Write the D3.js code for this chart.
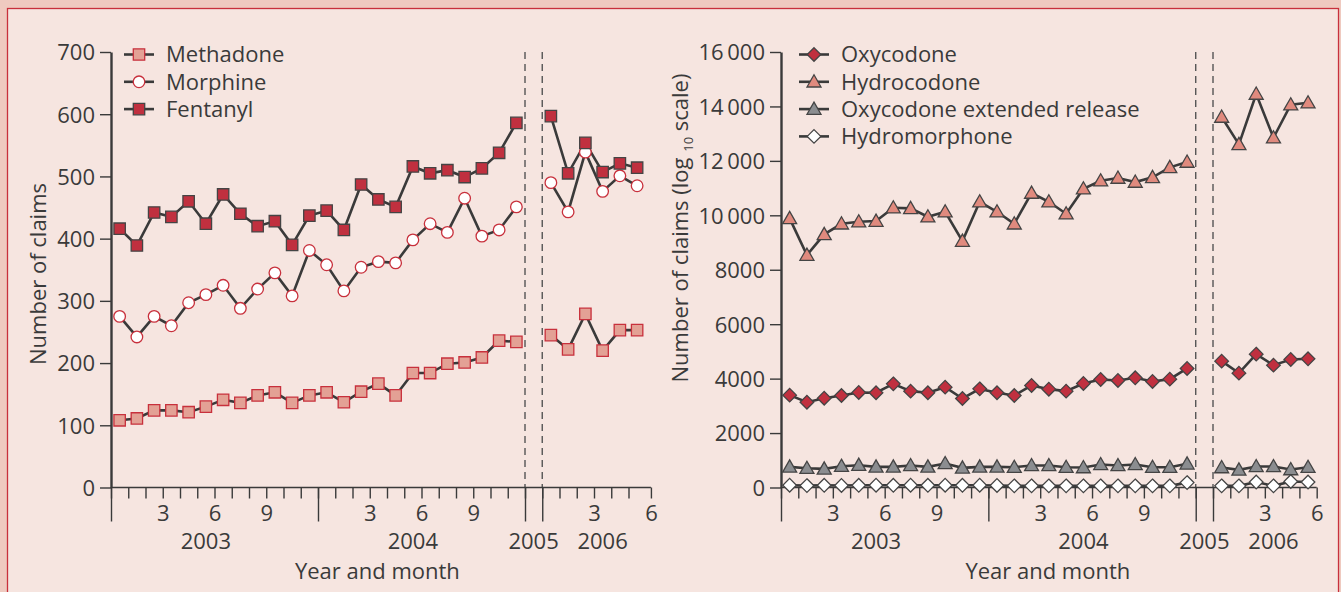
<!DOCTYPE html>
<html>
<head>
<meta charset="utf-8">
<script src="https://cdn.jsdelivr.net/npm/d3@7"></script>
<style>
  body { margin: 0; background: #efcac0; }
  svg { display: block; font-family: "Open Sans", sans-serif; }
  .tick text { font-size: 22px; fill: #3a3a3a; font-family: "Open Sans", sans-serif; }
</style>
</head>
<body>
<div id="chart"></div>
<script>
// Monthly claims, Jan 2003 - Dec 2004 (24 values) and Jan - Jun 2006 (6 values)
var methadone03 = [108, 111, 124, 124, 121, 130, 141, 136, 148, 153, 136, 148,
                   153, 137, 154, 167, 148, 184, 184, 199, 201, 209, 236, 234];
var methadone06 = [245, 222, 279, 220, 253, 253];
var morphine03 = [275, 242, 275, 260, 297, 310, 325, 288, 319, 345, 308, 381,
                  358, 316, 354, 363, 361, 398, 424, 410, 465, 404, 414, 451];
var morphine06 = [490, 443, 539, 476, 501, 485];
var fentanyl03 = [416, 389, 442, 435, 460, 424, 471, 440, 420, 428, 390, 437,
                  445, 414, 487, 463, 451, 516, 505, 510, 499, 513, 538, 586];
var fentanyl06 = [597, 505, 554, 507, 521, 514];

var oxycodone03 = [3393, 3135, 3282, 3381, 3492, 3480, 3808, 3540, 3480, 3687, 3271, 3624,
                   3480, 3381, 3749, 3613, 3540, 3823, 3970, 3933, 4029, 3896, 3981, 4374];
var oxycodone06 = [4642, 4201, 4900, 4495, 4705, 4728];
var hydrocodone03 = [9888, 8539, 9300, 9689, 9763, 9788, 10277, 10255, 9947, 10130, 9053, 10498,
                     10130, 9689, 10817, 10498, 10057, 10976, 11270, 11369, 11222, 11394, 11762, 11957];
var hydrocodone06 = [13611, 12607, 14456, 12850, 14063, 14137];
var oxyER03 = [757, 709, 684, 783, 820, 757, 757, 808, 757, 882, 721, 757,
               757, 745, 808, 808, 745, 733, 845, 808, 845, 745, 745, 869];
var oxyER06 = [733, 647, 771, 771, 660, 745];
var hydromorphone03 = [85, 70, 80, 75, 80, 85, 80, 85, 80, 85, 80, 85,
                       75, 60, 60, 60, 60, 60, 60, 60, 60, 60, 60, 180];
var hydromorphone06 = [60, 60, 200, 60, 220, 200];

// tick labels
var leftYTicks = [0, 100, 200, 300, 400, 500, 600, 700];
var rightYTicks = [0, 2000, 4000, 6000, 8000, 10000, 12000, 14000, 16000];
var rightYLabels = ["0", "2000", "4000", "6000", "8000", "10\u2009000", "12\u2009000", "14\u2009000", "16\u2009000"];
var yearLabels = ["2003", "2004", "2005", "2006"];
var yearSlots = [5.5, 17.5, 24.5, 28.5];
var monthLabels = {3: "3", 6: "6", 9: "9", 15: "3", 18: "6", 21: "9", 28: "3", 31: "6"};

var svgWidth = 1341;
var svgHeight = 592;

var svg = d3.select("#chart")
  .append("svg")
  .attr("width", svgWidth)
  .attr("height", svgHeight);

// frame: outer band, red line, inner panel
svg.append("rect")
  .attr("x", 0).attr("y", 0)
  .attr("width", svgWidth).attr("height", svgHeight)
  .attr("fill", "#efcac0");
svg.append("rect")
  .attr("x", 7.5).attr("y", 8.5)
  .attr("width", 1331).attr("height", 600)
  .attr("fill", "#f6e5e0")
  .attr("stroke", "#c8303c")
  .attr("stroke-width", 1.3);

var ink = "#3a3a3a";
var fontSize = "22px";

// one month slot position (0-based month index, gap for 2005)
function slotPos(i, is2006) {
  return is2006 ? 25 + i + 0.5 : i + 0.5;
}

function drawPanel(opts) {
  var x = d3.scaleLinear().domain([0, 31]).range([opts.x0, opts.x0 + 31 * opts.w]);
  var y = d3.scaleLinear().domain(opts.yDomain).range([487.5, 52]);
  var g = svg.append("g");

  // dashed markers around 2005
  [24, 25].forEach(function (b) {
    g.append("line")
      .attr("x1", x(b)).attr("x2", x(b))
      .attr("y1", 52).attr("y2", 487.5)
      .attr("stroke", "#555")
      .attr("stroke-width", 1.4)
      .attr("stroke-dasharray", "7,5");
  });

  // month boundaries
  var bounds = d3.range(0, 25).concat(d3.range(25, 32));
  var endPos = opts.endTick;

  var xAxis = d3.axisBottom(x)
    .tickValues(bounds.map(function (b) { return b === 31 ? endPos : b; }))
    .tickSize(11)
    .tickSizeOuter(0)
    .tickPadding(7)
    .tickFormat(function (d, i) { return monthLabels[bounds[i]] || ""; });
  var xg = g.append("g")
    .attr("transform", "translate(0,487.5)")
    .call(xAxis);
  xg.select(".domain").attr("stroke", ink).attr("stroke-width", 1.5)
    .attr("d", "M" + x(0) + ",0H" + x(endPos));
  xg.selectAll(".tick line").attr("stroke", ink).attr("stroke-width", 1.4);

  // long ticks at year boundaries
  var longAxis = d3.axisBottom(x)
    .tickValues([0, 12, 24, 25])
    .tickSize(34)
    .tickSizeOuter(0)
    .tickFormat("");
  var lg = g.append("g")
    .attr("transform", "translate(0,487.5)")
    .call(longAxis);
  lg.select(".domain").remove();
  lg.selectAll(".tick line").attr("stroke", ink).attr("stroke-width", 1.4);

  // year labels
  g.selectAll(".year")
    .data(yearLabels)
    .enter()
    .append("text")
    .attr("x", function (d, i) { return x(yearSlots[i]); })
    .attr("y", 549)
    .attr("text-anchor", "middle")
    .style("font-size", fontSize)
    .attr("fill", ink)
    .text(function (d) { return d; });

  g.append("text")
    .attr("x", x(15.5) - 1)
    .attr("y", 579)
    .attr("text-anchor", "middle")
    .style("font-size", fontSize)
    .attr("fill", ink)
    .text("Year and month");

  // y axis
  var yAxis = d3.axisLeft(y)
    .tickValues(opts.yTicks)
    .tickSize(11)
    .tickSizeOuter(0)
    .tickPadding(5)
    .tickFormat(function (d, i) { return opts.yLabels[i]; });
  var yg = g.append("g")
    .attr("transform", "translate(" + opts.x0 + ",0)")
    .call(yAxis);
  yg.select(".domain").attr("stroke", ink).attr("stroke-width", 2.4);
  yg.selectAll(".tick line").attr("stroke", ink).attr("stroke-width", 1.4);
  yg.selectAll(".tick text").attr("dy", "0.36em");

  // series
  var line = d3.line()
    .x(function (d) { return x(d.pos); })
    .y(function (d) { return y(d.v); });

  opts.series.forEach(function (s) {
    var segs = [
      s.a.map(function (v, i) { return { pos: slotPos(i, false), v: v }; }),
      s.b.map(function (v, i) { return { pos: slotPos(i, true), v: v }; })
    ];
    segs.forEach(function (pts) {
      g.append("path")
        .datum(pts)
        .attr("d", line)
        .attr("fill", "none")
        .attr("stroke", ink)
        .attr("stroke-width", 2.6);
    });
  });
  opts.series.forEach(function (s) {
    var pts = s.a.map(function (v, i) { return { pos: slotPos(i, false), v: v }; })
      .concat(s.b.map(function (v, i) { return { pos: slotPos(i, true), v: v }; }));
    g.selectAll(null)
      .data(pts)
      .enter()
      .append("path")
      .attr("transform", function (d) { return "translate(" + x(d.pos) + "," + y(d.v) + ")"; })
      .attr("d", markerPath(s.shape))
      .attr("fill", s.fill)
      .attr("stroke", s.stroke)
      .attr("stroke-width", 1.3);
  });

  // legend
  var lgd = g.append("g");
  opts.series.forEach(function (s, i) {
    var ly = 54.5 + i * 27.3;
    lgd.append("line")
      .attr("x1", opts.legendX).attr("x2", opts.legendX + 30)
      .attr("y1", ly).attr("y2", ly)
      .attr("stroke", ink).attr("stroke-width", 2.6);
    lgd.append("path")
      .attr("transform", "translate(" + (opts.legendX + 15) + "," + ly + ")")
      .attr("d", markerPath(s.shape))
      .attr("fill", s.fill)
      .attr("stroke", s.stroke)
      .attr("stroke-width", 1.3);
    lgd.append("text")
      .attr("x", opts.legendX + 42)
      .attr("y", ly)
      .attr("dy", "0.36em")
      .style("font-size", fontSize)
      .attr("fill", ink)
      .text(s.name);
  });

  return g;
}

function markerPath(shape) {
  if (shape === "square") return "M-5.7,-5.7H5.7V5.7H-5.7Z";
  if (shape === "circle") return "M-5.8,0A5.8,5.8 0 1,0 5.8,0A5.8,5.8 0 1,0 -5.8,0Z";
  if (shape === "diamond") return "M0,-6.8L6.8,0L0,6.8L-6.8,0Z";
  if (shape === "triangle") return "M0,-7L7,5.2L-7,5.2Z";
  return "";
}

// left panel
drawPanel({
  x0: 111, w: 17.25, endTick: 31.3,
  yDomain: [0, 700], yTicks: leftYTicks,
  yLabels: leftYTicks.map(String),
  legendX: 124,
  series: [
    { name: "Methadone", a: methadone03, b: methadone06, shape: "square", fill: "#e3a195", stroke: "#c8303c" },
    { name: "Morphine", a: morphine03, b: morphine06, shape: "circle", fill: "#ffffff", stroke: "#c8303c" },
    { name: "Fentanyl", a: fentanyl03, b: fentanyl06, shape: "square", fill: "#c0303f", stroke: "#444" }
  ]
});

// left y label
svg.append("text")
  .attr("transform", "translate(46,274) rotate(-90)")
  .attr("text-anchor", "middle")
  .style("font-size", fontSize)
  .attr("fill", ink)
  .text("Number of claims");

// right panel
drawPanel({
  x0: 781, w: 17.28, endTick: 31,
  yDomain: [0, 16000], yTicks: rightYTicks,
  yLabels: rightYLabels,
  legendX: 799,
  series: [
    { name: "Oxycodone", a: oxycodone03, b: oxycodone06, shape: "diamond", fill: "#c0303f", stroke: "#444" },
    { name: "Hydrocodone", a: hydrocodone03, b: hydrocodone06, shape: "triangle", fill: "#e08a7e", stroke: "#444" },
    { name: "Oxycodone extended release", a: oxyER03, b: oxyER06, shape: "triangle", fill: "#8b8d90", stroke: "#444" },
    { name: "Hydromorphone", a: hydromorphone03, b: hydromorphone06, shape: "diamond", fill: "#ffffff", stroke: "#444" }
  ]
});

// right y label with subscript
var rl = svg.append("text")
  .attr("transform", "translate(688,228) rotate(-90)")
  .attr("text-anchor", "middle")
  .style("font-size", fontSize)
  .attr("fill", ink);
rl.append("tspan").text("Number of claims (log ");
rl.append("tspan").style("font-size", "13px").attr("dy", "5").text("10");
rl.append("tspan").attr("dy", "-5").text(" scale)");
</script>
</body>
</html>
